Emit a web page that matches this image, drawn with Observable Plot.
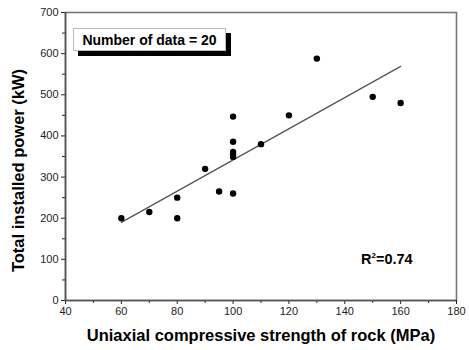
<!DOCTYPE html>
<html>
<head>
<meta charset="utf-8">
<script src="https://cdn.jsdelivr.net/npm/d3@7"></script>
<script src="https://cdn.jsdelivr.net/npm/@observablehq/plot@0.6"></script>
<style>
  body { margin: 0; background: #fff; font-family: "Liberation Sans", Arial, sans-serif; }
  #wrap { position: relative; width: 469px; height: 350px; }
  #legend {
    position: absolute; left: 73px; top: 28px; width: 151px; height: 21px;
    background: #fff; border: 1px solid #bbb; box-shadow: 5px 5px 0 #000;
    font: bold 14px "Liberation Sans", Arial, sans-serif; color: #000;
    display: flex; align-items: center; justify-content: center;
  }
  #r2 {
    position: absolute; left: 361px; top: 251px;
    font: bold 14.5px "Liberation Sans", Arial, sans-serif; color: #000;
  }
  #r2 sup { font-size: 8px; vertical-align: 6px; line-height: 0; }
</style>
</head>
<body>
<div id="wrap">
  <div id="chart"></div>
  <div id="legend">Number of data = 20</div>
  <div id="r2">R<sup>2</sup>=0.74</div>
</div>
<script>
// Data
const ucs   = [60, 70, 80, 80, 90, 95, 100, 100, 100, 100, 100, 100, 110, 120, 130, 150, 160];
const power = [200, 215, 250, 200, 320, 265, 260, 447, 386, 361, 355, 349, 380, 450, 588, 495, 480];
const fitX = [60, 160];
const fitY = [190, 569];
const xTicks = [40, 60, 80, 100, 120, 140, 160, 180];
const xMinor = [50, 70, 90, 110, 130, 150, 170];
const yTicks = [0, 100, 200, 300, 400, 500, 600, 700];
const yMinor = [50, 150, 250, 350, 450, 550, 650];
const xLabel = "Uniaxial compressive strength of rock (MPa)";
const yLabel = "Total installed power (kW)";

const points = ucs.map((x, i) => ({x, y: power[i]}));
const fit = fitX.map((x, i) => ({x, y: fitY[i]}));

const chart = Plot.plot({
  width: 469,
  height: 350,
  marginLeft: 65,
  marginRight: 13,
  marginTop: 12,
  marginBottom: 50,
  style: { fontFamily: "'Liberation Sans', Arial, sans-serif", color: "#222", background: "#fff" },
  x: { domain: [40, 180], axis: null },
  y: { domain: [0, 700], axis: null },
  marks: [
    Plot.frame({ stroke: "#777", strokeWidth: 1.6 }),
    Plot.axisX({ ticks: xTicks, tickSize: 4, tickPadding: 3, fontSize: 11, label: null, tickFormat: d => String(d) }),
    Plot.axisX({ ticks: xMinor, tickSize: 3, label: null, tickFormat: () => "" }),
    Plot.axisY({ ticks: yTicks, tickSize: 4, tickPadding: 3, fontSize: 11, label: null, tickFormat: d => String(d) }),
    Plot.axisY({ ticks: yMinor, tickSize: 3, label: null, tickFormat: () => "" }),
    Plot.ruleY([0], { stroke: "#555", strokeWidth: 1.6 }),
    Plot.ruleX([40], { stroke: "#555", strokeWidth: 1.6 }),
    Plot.line(fit, { x: "x", y: "y", stroke: "#555", strokeWidth: 1.3 }),
    Plot.dot(points, { x: "x", y: "y", r: 3.2, fill: "#000", stroke: "none" }),
    Plot.text([xLabel], { text: d => d, frameAnchor: "bottom", dy: 40, fontSize: 16.5, fontWeight: "bold", fill: "#000" }),
    Plot.text([yLabel], { text: d => d, frameAnchor: "left", textAnchor: "middle", rotate: -90, dx: -47, dy: 14, fontSize: 16.5, fontWeight: "bold", fill: "#000" })
  ]
});
document.getElementById("chart").appendChild(chart);
</script>
</body>
</html>
